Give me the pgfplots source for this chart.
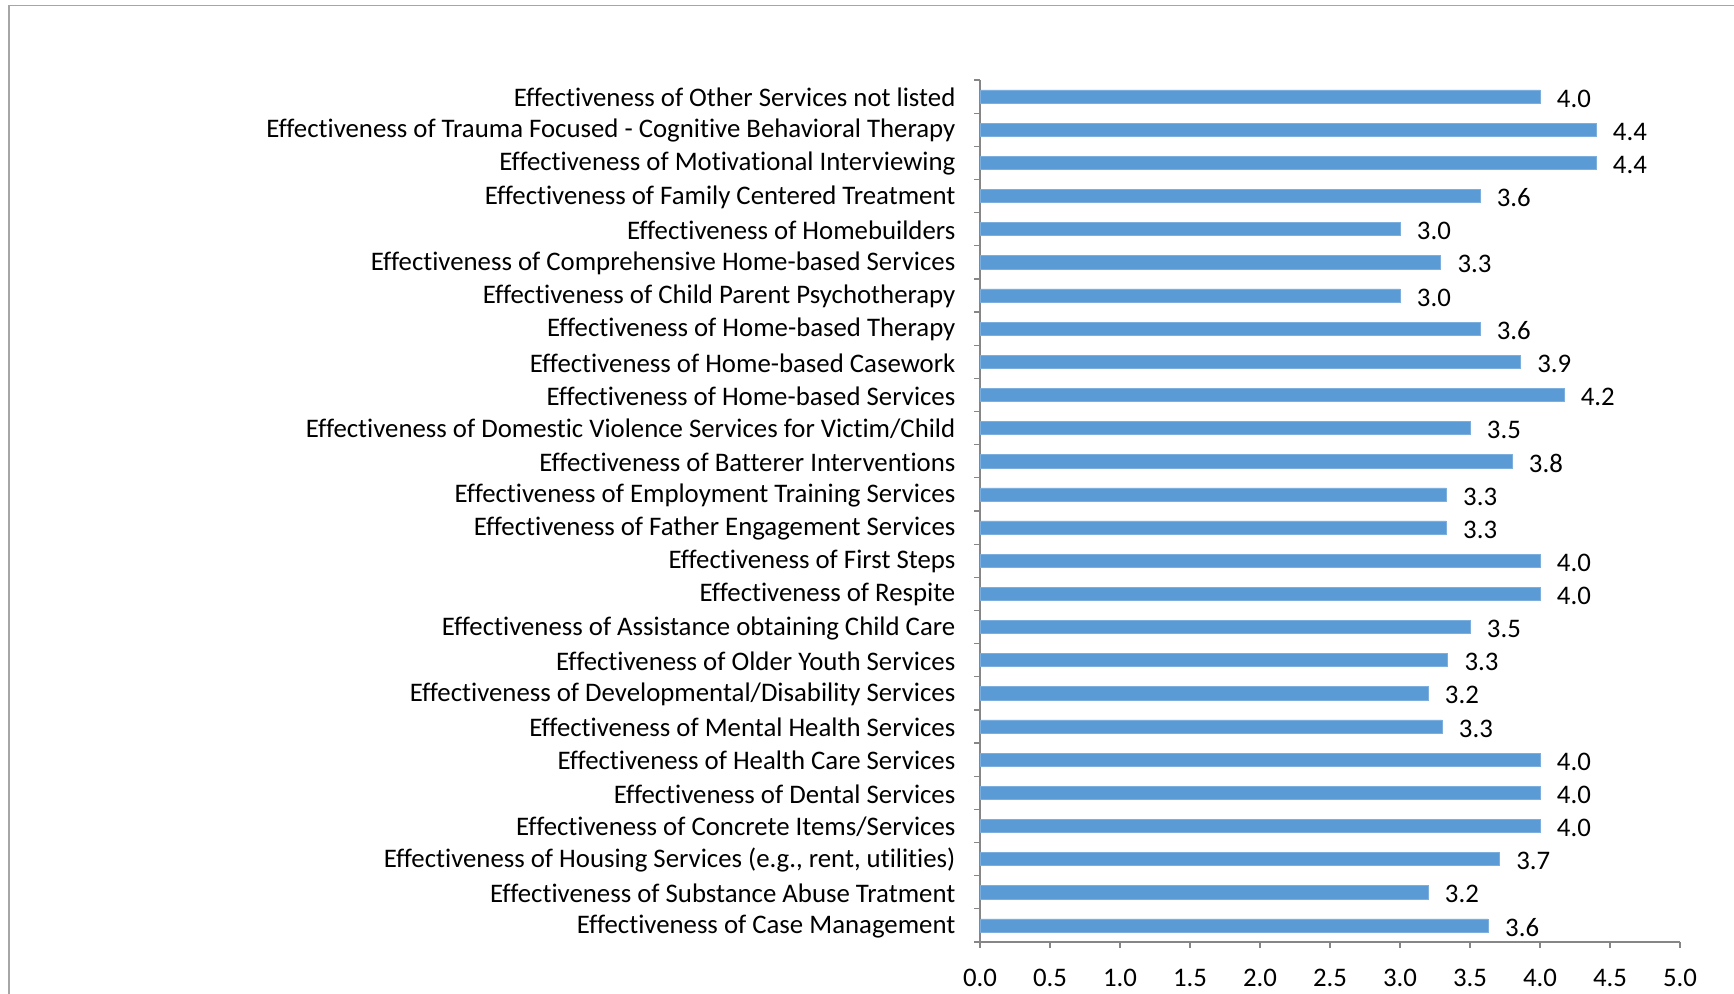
\documentclass[border=0pt]{standalone}
\usepackage{pgfplots}
\pgfplotsset{compat=1.18}
\usepackage{fontspec}
\setmainfont[Ligatures={NoCommon}]{Carlito}
\definecolor{barblue}{HTML}{5B9BD5}
\definecolor{axgray}{HTML}{868686}
\definecolor{framegray}{HTML}{A6A6A6}
\newcommand{\lblfont}{\fontsize{13.4}{15}\selectfont}
\begin{document}
\begin{tikzpicture}
\useasboundingbox (0,0) rectangle (867pt,497pt);
\draw[framegray, line width=0.6pt] (4.5pt,0) -- (4.5pt,494.3pt) -- (867pt,494.3pt);
\begin{axis}[
  at={(490pt,26pt)}, anchor=south west,
  scale only axis, width=350pt, height=431pt,
  xbar, bar width=6.6pt,
  xmin=0, xmax=5, ymin=-0.5, ymax=25.5,
  axis x line*=bottom, axis y line*=left,
  axis line style={axgray, line width=0.6pt},
  xtick={0,0.5,1,1.5,2,2.5,3,3.5,4,4.5,5},
  xticklabel style={font=\lblfont, yshift=-10pt,
    /pgf/number format/fixed, /pgf/number format/fixed zerofill,
    /pgf/number format/precision=1, /pgf/number format/assume math mode=true},
  ytick={0,...,25},
  yticklabels={
    Effectiveness of Case Management,
    Effectiveness of Substance Abuse Tratment,
    {Effectiveness of Housing Services (e.g., rent, utilities)},
    Effectiveness of Concrete Items/Services,
    Effectiveness of Dental Services,
    Effectiveness of Health Care Services,
    Effectiveness of Mental Health Services,
    Effectiveness of Developmental/Disability Services,
    Effectiveness of Older Youth Services,
    Effectiveness of Assistance obtaining Child Care,
    Effectiveness of Respite,
    Effectiveness of First Steps,
    Effectiveness of Father Engagement Services,
    Effectiveness of Employment Training Services,
    Effectiveness of Batterer Interventions,
    Effectiveness of Domestic Violence Services for Victim/Child,
    Effectiveness of Home-based Services,
    Effectiveness of Home-based Casework,
    Effectiveness of Home-based Therapy,
    Effectiveness of Child Parent Psychotherapy,
    Effectiveness of Comprehensive Home-based Services,
    Effectiveness of Homebuilders,
    Effectiveness of Family Centered Treatment,
    Effectiveness of Motivational Interviewing,
    Effectiveness of Trauma Focused - Cognitive Behavioral Therapy,
    Effectiveness of Other Services not listed},
  yticklabel style={font=\lblfont, xshift=-8.8pt, yshift=-0.5pt},
  tick align=outside,
  major tick length=0pt,
  extra y ticks={-0.5,0.5,1.5,2.5,3.5,4.5,5.5,6.5,7.5,8.5,9.5,10.5,11.5,12.5,13.5,14.5,15.5,16.5,17.5,18.5,19.5,20.5,21.5,22.5,23.5,24.5,25.5},
  extra y tick labels={},
  extra y tick style={major tick length=3pt, tick style={axgray, line width=0.6pt}},
  extra x ticks={0,0.5,1,1.5,2,2.5,3,3.5,4,4.5,5},
  extra x tick labels={},
  extra x tick style={major tick length=3pt, tick style={axgray, line width=0.6pt}},
  nodes near coords,
  nodes near coords style={font=\lblfont, anchor=west, xshift=5pt, yshift=-1pt,
    /pgf/number format/fixed, /pgf/number format/fixed zerofill,
    /pgf/number format/precision=1, /pgf/number format/assume math mode=true},
  clip=false,
]
\addplot[fill=barblue, draw=barblue!80!white, line width=0.3pt] coordinates {
(3.63,0) (3.20,1) (3.71,2) (4.00,3) (4.00,4) (4.00,5) (3.30,6) (3.20,7) (3.34,8) (3.50,9)
(4.00,10) (4.00,11) (3.33,12) (3.33,13) (3.80,14) (3.50,15) (4.17,16) (3.86,17) (3.57,18)
(3.00,19) (3.29,20) (3.00,21) (3.57,22) (4.40,23) (4.40,24) (4.00,25)};
\end{axis}
\end{tikzpicture}
\end{document}
